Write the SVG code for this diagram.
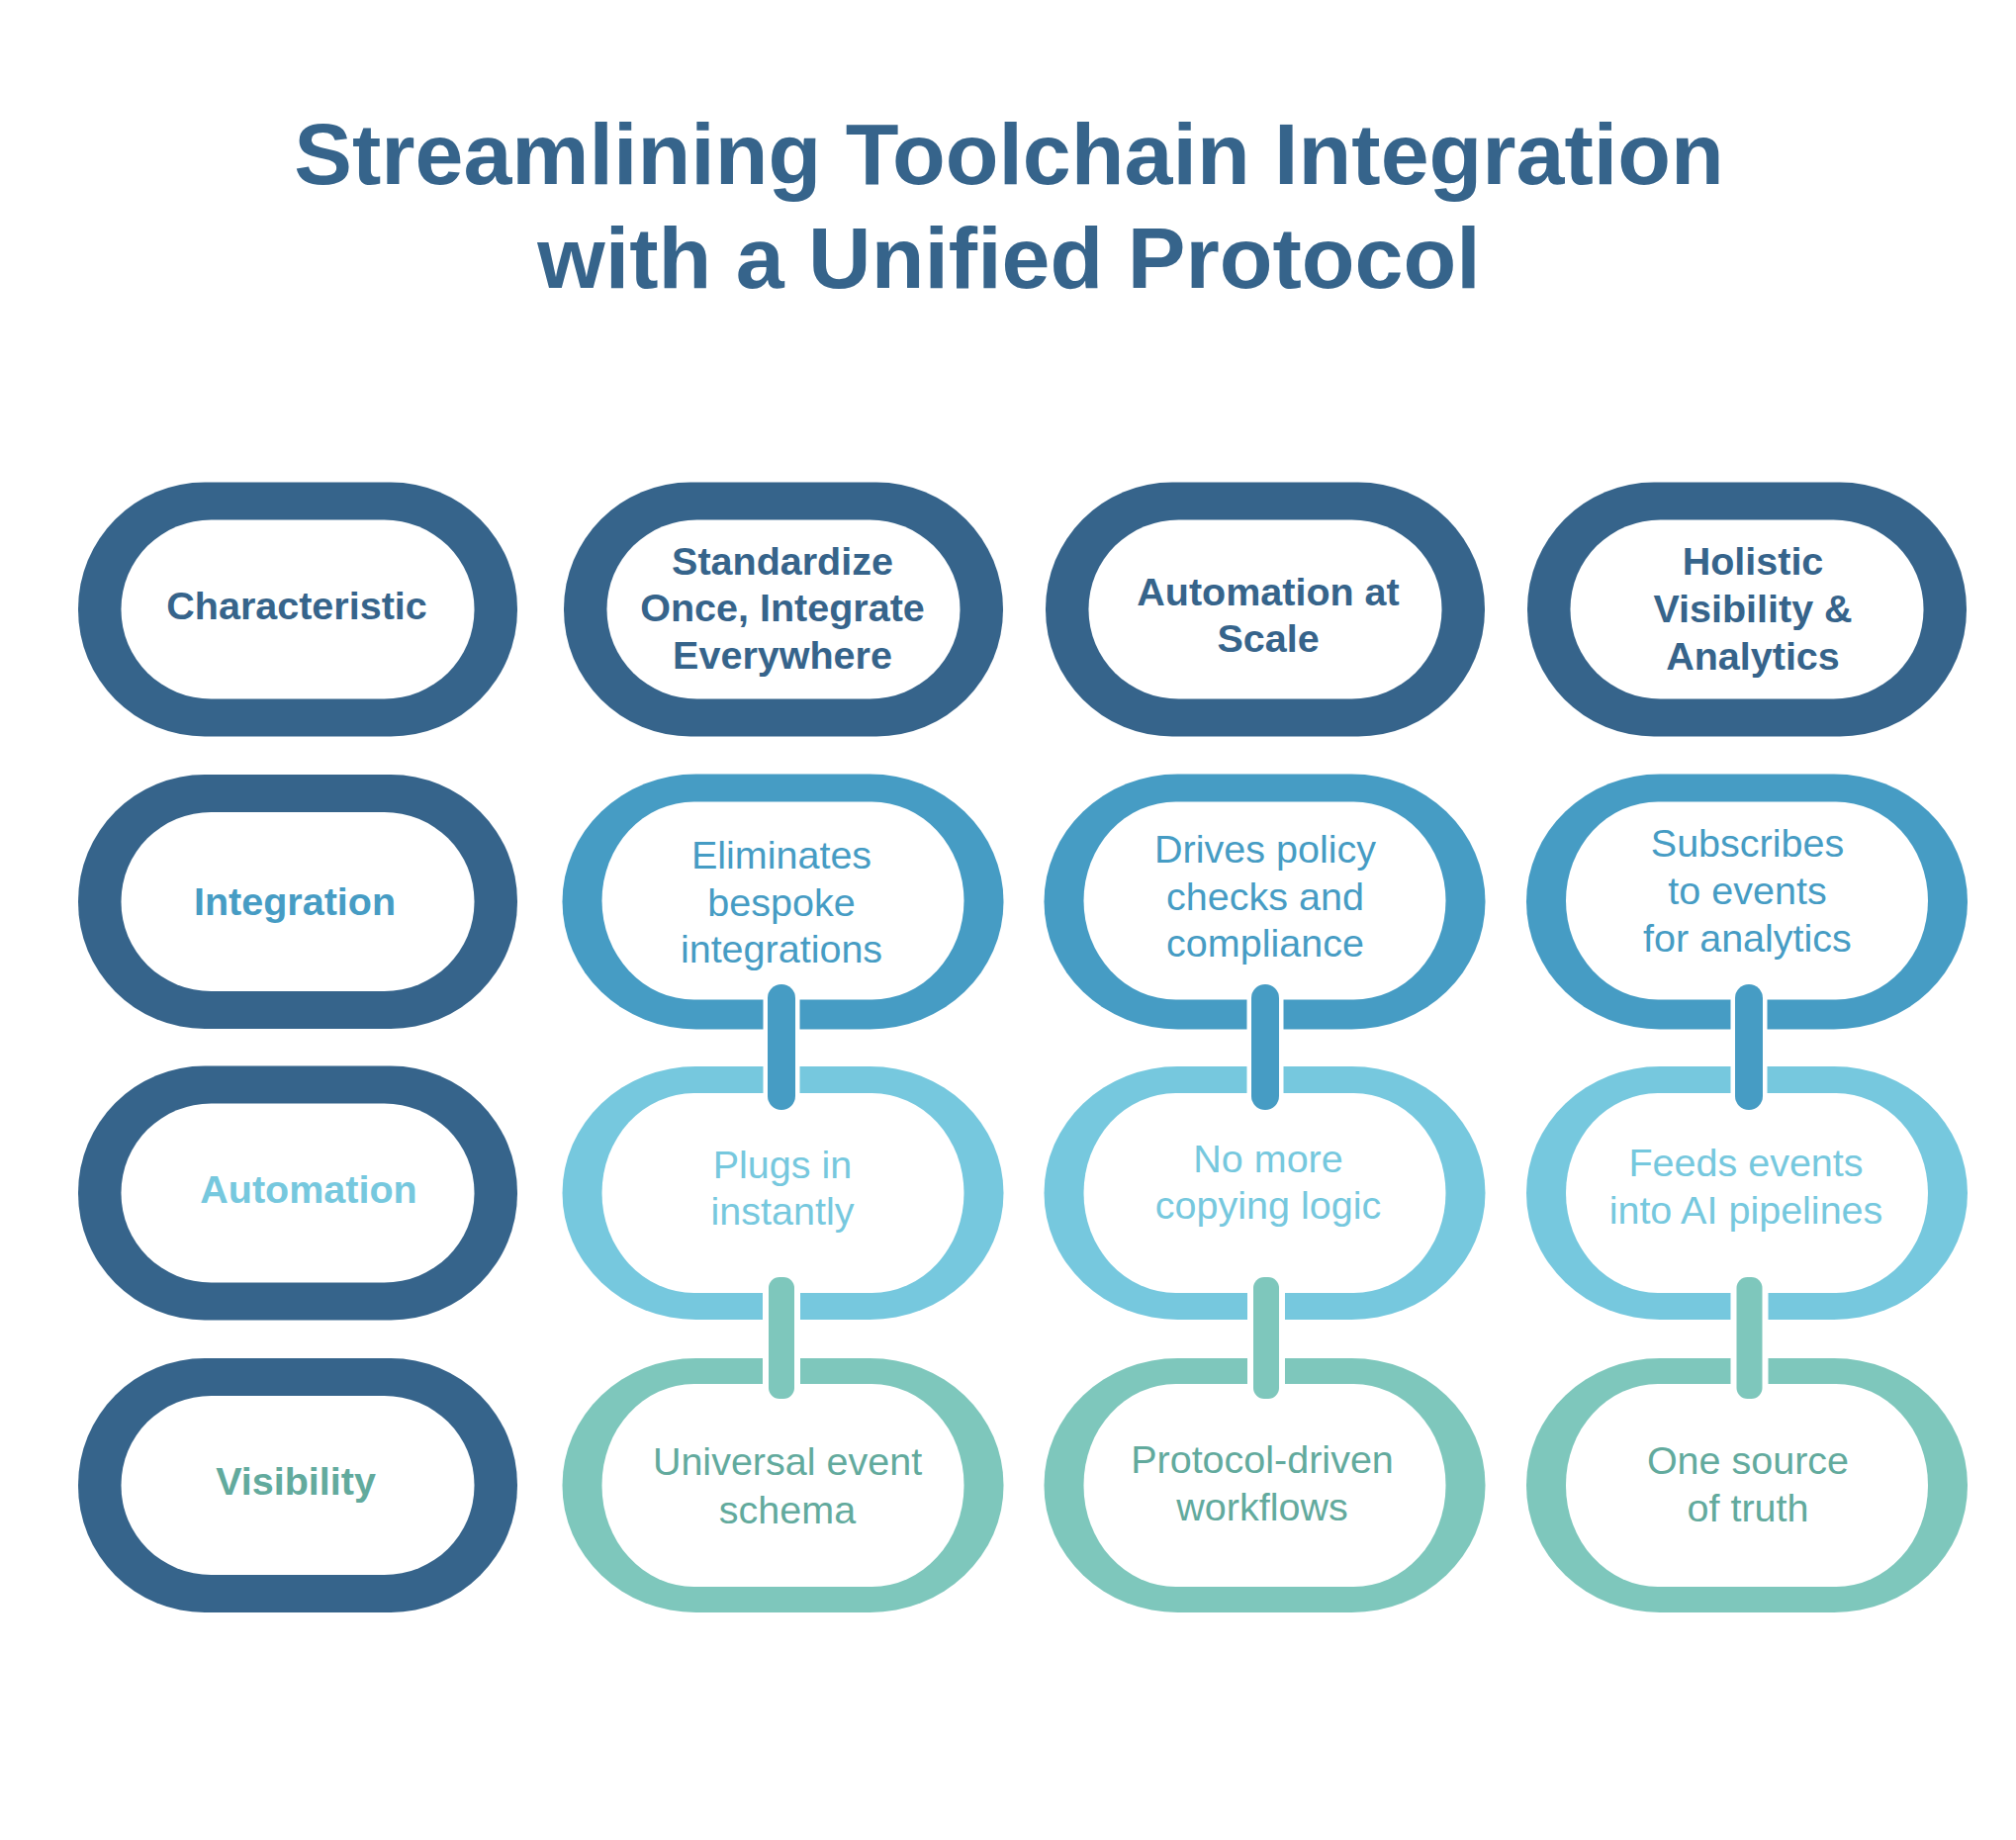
<svg xmlns="http://www.w3.org/2000/svg" width="2038" height="1860" viewBox="0 0 2038 1860">
<style>
.title{font-family:"Liberation Sans",Arial,sans-serif;font-weight:bold;font-size:88px;fill:#36648b;text-anchor:middle}
.hd{font-family:"Liberation Sans",Arial,sans-serif;font-weight:bold;font-size:39.5px;text-anchor:middle}
.dt{font-family:"Liberation Sans",Arial,sans-serif;font-size:39.5px;text-anchor:middle}
.dark{fill:#36648b}
.int{fill:#469cc4}
.aut{fill:#76c8de}
.vis{fill:#7ec7bc}
.vist{fill:#62aa9d}
.in{fill:#ffffff}
</style>
<rect width="2038" height="1860" fill="#ffffff"/>
<g id="title">
<text class="title" x="1020" y="186">Streamlining Toolchain Integration</text>
<text class="title" x="1020" y="291">with a Unified Protocol</text>
</g>
<g id="nodes">
<g id="h-characteristic">
<rect class="dark" x="79" y="487.5" width="444" height="257" rx="128" ry="128"/>
<rect class="in" x="122.5" y="525.5" width="357" height="181" rx="91" ry="90"/>
<text class="hd dark" x="300" y="626">Characteristic</text>
</g>
<g id="h-standardize">
<rect class="dark" x="570" y="487.5" width="444" height="257" rx="128" ry="128"/>
<rect class="in" x="613.5" y="525.5" width="357" height="181" rx="91" ry="90"/>
<text class="hd dark" x="791" y="581">Standardize</text>
<text class="hd dark" x="791" y="628">Once, Integrate</text>
<text class="hd dark" x="791" y="676">Everywhere</text>
</g>
<g id="h-automation-scale">
<rect class="dark" x="1057" y="487.5" width="444" height="257" rx="128" ry="128"/>
<rect class="in" x="1100.5" y="525.5" width="357" height="181" rx="91" ry="90"/>
<text class="hd dark" x="1282" y="612">Automation at</text>
<text class="hd dark" x="1282" y="659">Scale</text>
</g>
<g id="h-holistic">
<rect class="dark" x="1544" y="487.5" width="444" height="257" rx="128" ry="128"/>
<rect class="in" x="1587.5" y="525.5" width="357" height="181" rx="91" ry="90"/>
<text class="hd dark" x="1772" y="581">Holistic</text>
<text class="hd dark" x="1772" y="629">Visibility &amp;</text>
<text class="hd dark" x="1772" y="677">Analytics</text>
</g>
<g id="r-integration">
<rect class="dark" x="79" y="783" width="444" height="257" rx="128" ry="128"/>
<rect class="in" x="122.5" y="821" width="357" height="181" rx="91" ry="90"/>
<text class="hd int" x="298" y="925">Integration</text>
</g>
<g id="r-automation">
<rect class="dark" x="79" y="1077.5" width="444" height="257" rx="128" ry="128"/>
<rect class="in" x="122.5" y="1115.5" width="357" height="181" rx="91" ry="90"/>
<text class="hd aut" x="312" y="1216">Automation</text>
</g>
<g id="r-visibility">
<rect class="dark" x="79" y="1373" width="444" height="257" rx="128" ry="128"/>
<rect class="in" x="122.5" y="1411" width="357" height="181" rx="91" ry="90"/>
<text class="hd vist" x="299" y="1511">Visibility</text>
</g>
<g id="c2-integration">
<rect class="int" x="568.5" y="782.5" width="446" height="258" rx="135" ry="129"/>
<rect class="in" x="608.5" y="810.5" width="366" height="200" rx="93" ry="100"/>
<text class="dt int" x="790" y="877.5">Eliminates</text>
<text class="dt int" x="790" y="925.5">bespoke</text>
<text class="dt int" x="790" y="973">integrations</text>
</g>
<g id="c3-integration">
<rect class="int" x="1055.5" y="782.5" width="446" height="258" rx="135" ry="129"/>
<rect class="in" x="1095.5" y="810.5" width="366" height="200" rx="93" ry="100"/>
<text class="dt int" x="1279" y="872">Drives policy</text>
<text class="dt int" x="1279" y="919.5">checks and</text>
<text class="dt int" x="1279" y="967">compliance</text>
</g>
<g id="c4-integration">
<rect class="int" x="1543" y="782.5" width="446" height="258" rx="135" ry="129"/>
<rect class="in" x="1583" y="810.5" width="366" height="200" rx="93" ry="100"/>
<text class="dt int" x="1766.5" y="866">Subscribes</text>
<text class="dt int" x="1766.5" y="914">to events</text>
<text class="dt int" x="1766.5" y="962">for analytics</text>
</g>
<g id="c2-automation">
<rect class="aut" x="568.5" y="1078" width="446" height="256" rx="135" ry="128"/>
<rect class="in" x="608.5" y="1105" width="366" height="202" rx="93" ry="101"/>
<text class="dt aut" x="791" y="1191">Plugs in</text>
<text class="dt aut" x="791" y="1238">instantly</text>
</g>
<g id="c3-automation">
<rect class="aut" x="1055.5" y="1078" width="446" height="256" rx="135" ry="128"/>
<rect class="in" x="1095.5" y="1105" width="366" height="202" rx="93" ry="101"/>
<text class="dt aut" x="1282" y="1185">No more</text>
<text class="dt aut" x="1282" y="1232">copying logic</text>
</g>
<g id="c4-automation">
<rect class="aut" x="1543" y="1078" width="446" height="256" rx="135" ry="128"/>
<rect class="in" x="1583" y="1105" width="366" height="202" rx="93" ry="101"/>
<text class="dt aut" x="1765" y="1189">Feeds events</text>
<text class="dt aut" x="1765" y="1237">into AI pipelines</text>
</g>
<g id="c2-visibility">
<rect class="vis" x="568.5" y="1373" width="446" height="257" rx="135" ry="128"/>
<rect class="in" x="608.5" y="1399" width="366" height="205" rx="93" ry="102"/>
<text class="dt vist" x="796" y="1491">Universal event</text>
<text class="dt vist" x="796" y="1539.5">schema</text>
</g>
<g id="c3-visibility">
<rect class="vis" x="1055.5" y="1373" width="446" height="257" rx="135" ry="128"/>
<rect class="in" x="1095.5" y="1399" width="366" height="205" rx="93" ry="102"/>
<text class="dt vist" x="1276" y="1489">Protocol-driven</text>
<text class="dt vist" x="1276" y="1537">workflows</text>
</g>
<g id="c4-visibility">
<rect class="vis" x="1543" y="1373" width="446" height="257" rx="135" ry="128"/>
<rect class="in" x="1583" y="1399" width="366" height="205" rx="93" ry="102"/>
<text class="dt vist" x="1767" y="1490">One source</text>
<text class="dt vist" x="1767" y="1538">of truth</text>
</g>
</g>
<g id="connectors" stroke="#ffffff" paint-order="stroke">
<rect class="int" x="776" y="995" width="28" height="127" rx="14" ry="14" stroke-width="9"/>
<rect class="int" x="1265" y="995" width="28" height="127" rx="14" ry="14" stroke-width="9"/>
<rect class="int" x="1754" y="995" width="28" height="127" rx="14" ry="14" stroke-width="9"/>
<rect class="vis" x="777" y="1291" width="26" height="123" rx="11" ry="11" stroke-width="12"/>
<rect class="vis" x="1267" y="1291" width="26" height="123" rx="11" ry="11" stroke-width="12"/>
<rect class="vis" x="1755.5" y="1291" width="26" height="123" rx="11" ry="11" stroke-width="12"/>
</g>
</svg>
